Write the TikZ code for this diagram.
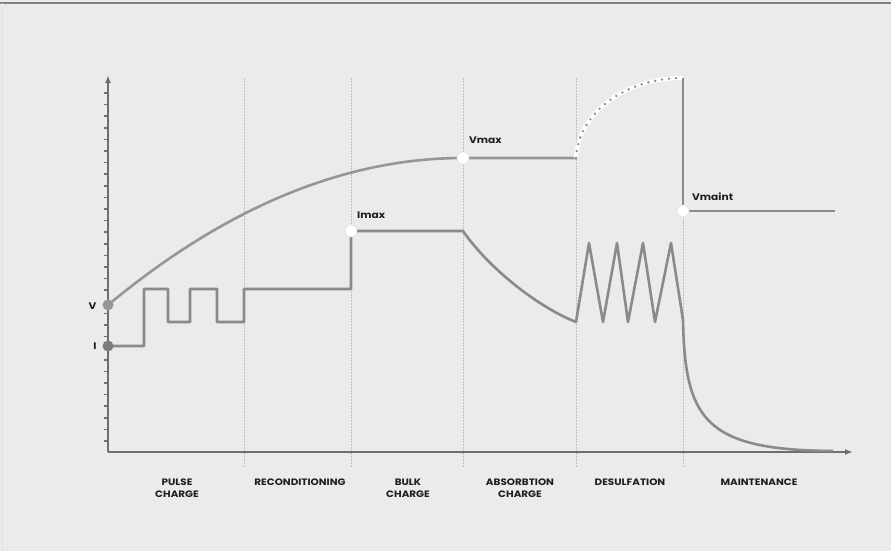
\documentclass[tikz,border=0pt]{standalone}
\usepackage{fontspec}
\setmainfont{Poppins}
\newfontfamily\chartfont[FakeStretch=1.12]{Poppins}
\usetikzlibrary{arrows.meta}

\definecolor{bggray}{HTML}{EBEBEB}
\definecolor{axisgray}{HTML}{6E6E6E}
\definecolor{curvegray}{HTML}{8A8A8A}
\definecolor{voltgray}{HTML}{969696}
\definecolor{sepgray}{HTML}{BEBEBE}
\definecolor{textgray}{HTML}{1E1E1E}

\begin{document}
\begin{tikzpicture}[x=1pt,y=-1pt]
  \tikzset{dot/.style = {shape=circle,fill=curvegray,minimum size=11pt,inner sep=0pt}}
  \tikzset{knee/.style = {shape=circle,fill=white,draw=white!80!gray,line width=0.6pt,minimum size=12pt,inner sep=0pt}}
  \tikzset{curve/.style = {draw=curvegray,line width=2.6pt,line join=round}}
  \tikzset{axis/.style = {draw=axisgray,line width=2.6pt,-{Latex[length=8pt,width=6pt]}}}
  \tikzset{sep/.style = {draw=sepgray,line width=0.6pt,dash pattern=on 1.5pt off 1.5pt}}
  \tikzset{tag/.style = {text=textgray,font=\chartfont\bfseries\fontsize{9.5}{11}\selectfont,inner sep=0pt}}
  \tikzset{phase/.style = {text=textgray,font=\chartfont\bfseries\fontsize{9.3}{11.5}\selectfont,align=center,anchor=north,inner sep=0pt}}

  % frame
  \fill[bggray] (0,0) rectangle (891,551);
  \useasboundingbox (0,0) rectangle (891,551);
  \draw[gray,line width=2pt] (0,3) -- (891,3);
  \draw[white!78!gray,line width=1pt] (2,3) -- (2,551);

  % phase borders
  \foreach \x in {244,351,463,576,683}
    \draw[sep] (\x,78) -- (\x,467);

  % axes
  \coordinate (origin) at (108,452);
  \coordinate (xend) at (853,452);
  \coordinate (yend) at (108,75);
  \foreach \k in {0,...,30}
    \draw[axisgray,line width=1.6pt] (103.5,{93+11.6*\k}) -- (108,{93+11.6*\k});
  \draw[axis] (origin) -- (xend);
  \draw[axis] (origin) -- (yend);

  % voltage
  \coordinate (v0) at (108,305);
  \coordinate (vmax) at (463,158);
  \coordinate (v1) at (576,158);
  \coordinate (vtop) at (683,78);
  \coordinate (vmaint) at (683,211);
  \coordinate (vend) at (835,211);
  \draw[curve,draw=voltgray] (v0) .. controls (226,207) and (345,158) .. (vmax) -- (v1);
  \draw[white,line width=4pt] (v1) .. controls (578,114) and (624,78) .. (vtop);
  \draw[curvegray,line width=2.6pt,line cap=round,dash pattern=on 0pt off 7pt]
    (v1) .. controls (578,114) and (624,78) .. (vtop);
  \draw[curve] (vtop) -- (vmaint) -- (vend);

  % current
  \coordinate (i0) at (108,346);
  \coordinate (imax) at (351,231);
  \coordinate (i1) at (463,231);
  \coordinate (i2) at (576,322);
  \coordinate (i3) at (683,320);
  \coordinate (iend) at (833,451);
  \draw[curve] (i0) -- (144,346) -- (144,289) -- (168,289) -- (168,322) -- (190,322)
    -- (190,289) -- (217,289) -- (217,322) -- (244,322) -- (244,289) -- (351,289)
    -- (imax) -- (i1) .. controls (490,270) and (540,308) .. (i2)
    -- (589,243) -- (603,322) -- (617,243) -- (628,322) -- (643,243) -- (655,322)
    -- (671,243) -- (i3) .. controls (685,420) and (705,450) .. (iend);

  % points
  \node[dot,fill=voltgray] (V) at (v0) {};
  \node[dot,fill=axisgray!90] (I) at (i0) {};
  \node[knee] (Imax) at (imax) {};
  \node[knee] (Vmax) at (vmax) {};
  \node[knee] (Vmaint) at (vmaint) {};

  \node[tag] (Vtag) at (92.5,306) {V};
  \node[tag] (Itag) at (95,346) {I};
  \node[tag,anchor=base west] (Imaxtag) at (357,218) {Imax};
  \node[tag,anchor=base west] (Vmaxtag) at (469,143) {Vmax};
  \node[tag,anchor=base west] (Vmainttag) at (692,200) {Vmaint};

  % phases
  \foreach \x/\txt in {177/{PULSE\\CHARGE}, 300/RECONDITIONING, 408/{BULK\\CHARGE},
                      520/{ABSORBTION\\CHARGE}, 630/DESULFATION, 759/MAINTENANCE}
    \node[phase] (phase\x) at (\x,479) {\txt};
\end{tikzpicture}
\end{document}
